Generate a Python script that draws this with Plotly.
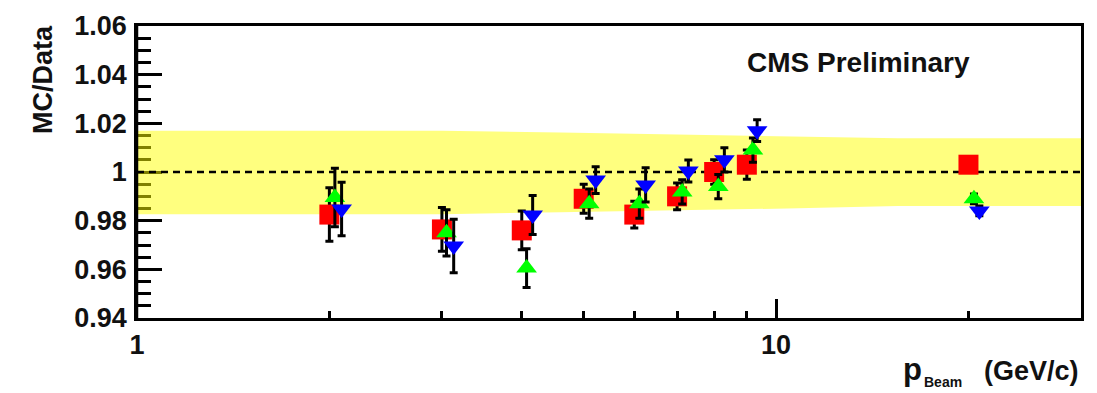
import math
import plotly.graph_objects as go

# Beam momentum (GeV/c) and MC/Data response ratio for three simulation sets
p_sq = [2, 3, 4, 5, 6, 7, 8, 9, 20]
r_sq = [0.9825, 0.9764, 0.9760, 0.9890, 0.9825, 0.9900, 1.0000, 1.0030, 1.0030]
e_sq = [0.0110, 0.0090, 0.0080, 0.0060, 0.0055, 0.0055, 0.0050, 0.0060, 0.0020]

p_up = [2.04, 3.05, 4.07, 5.10, 6.11, 7.13, 8.12, 9.20, 20.4]
r_up = [0.9895, 0.9750, 0.9605, 0.9870, 0.9870, 0.9918, 0.9940, 1.0090, 0.9890]
e_up = [0.0120, 0.0095, 0.0080, 0.0060, 0.0060, 0.0050, 0.0050, 0.0050, 0.0020]

p_dn = [2.09, 3.13, 4.16, 5.22, 6.25, 7.29, 8.30, 9.34, 20.8]
r_dn = [0.9848, 0.9696, 0.9823, 0.9967, 0.9947, 1.0004, 1.0050, 1.0170, 0.9840]
e_dn = [0.0110, 0.0110, 0.0080, 0.0055, 0.0070, 0.0045, 0.0050, 0.0045, 0.0020]

# Systematic uncertainty band
band_p = [1, 3, 4.6, 10.4, 15.5, 30]
band_hi = [1.0170, 1.0170, 1.0162, 1.0145, 1.0139, 1.0139]
band_lo = [0.9826, 0.9826, 0.9835, 0.9850, 0.9860, 0.9860]

x_range = [1, 30]
y_ticks = [0.94, 0.96, 0.98, 1.00, 1.02, 1.04, 1.06]
y_labels = ["0.94", "0.96", "0.98", "1", "1.02", "1.04", "1.06"]
x_ticks = [1, 10]
x_labels = ["1", "10"]
x_minor = [2, 3, 4, 5, 6, 7, 8, 9, 20, 30]

FONT = "Liberation Sans, Arial, sans-serif"
INK = "#111111"

fig = go.Figure()

fig.add_trace(go.Scatter(
    x=band_p + band_p[::-1], y=band_hi + band_lo[::-1],
    fill="toself", fillcolor="rgba(255,255,0,0.5)",
    line=dict(width=0), mode="lines", hoverinfo="skip", showlegend=False))

fig.add_trace(go.Scatter(
    x=x_range, y=[1, 1], mode="lines",
    line=dict(color="black", width=2.5, dash="7px,5px"),
    hoverinfo="skip", showlegend=False))

err_style = dict(type="data", color="black", thickness=3, width=4, visible=True)

fig.add_trace(go.Scatter(
    x=p_sq, y=r_sq, mode="markers",
    marker=dict(symbol="square", size=20, color="#ff0000", line=dict(width=0)),
    error_y=dict(array=e_sq, **err_style), showlegend=False))

fig.add_trace(go.Scatter(
    x=p_up, y=r_up, mode="markers",
    marker=dict(symbol="triangle-up", size=18, color="#00ff00", line=dict(width=0)),
    error_y=dict(array=e_up, **err_style), showlegend=False))

fig.add_trace(go.Scatter(
    x=p_dn, y=r_dn, mode="markers",
    marker=dict(symbol="triangle-down", size=18, color="#0000ff", line=dict(width=0)),
    error_y=dict(array=e_dn, **err_style), showlegend=False))

fig.update_layout(
    width=1097, height=393,
    margin=dict(l=137, r=16, t=26, b=75),
    paper_bgcolor="white", plot_bgcolor="white",
    font=dict(family=FONT, size=27, color=INK, weight="bold"),
    showlegend=False,
)

fig.update_xaxes(
    type="log", range=[math.log10(x_range[0]), math.log10(x_range[1])],
    tickmode="array", tickvals=x_ticks, ticktext=x_labels,
    ticks="inside", ticklen=19, tickwidth=2.5, tickcolor="black",
    showline=True, linewidth=2.5, linecolor="black", mirror=True,
    showgrid=False, zeroline=False, layer="below traces",
    tickfont=dict(size=27, weight="bold", color=INK), ticklabelstandoff=1,
    minor=dict(tickmode="array", tickvals=x_minor, ticks="inside",
               ticklen=7, tickwidth=2.5, tickcolor="black", showgrid=False),
)

fig.update_yaxes(
    range=[0.94, 1.06],
    tickmode="array", tickvals=y_ticks, ticktext=y_labels,
    ticks="inside", ticklen=25, tickwidth=2.5, tickcolor="black",
    showline=True, linewidth=2.5, linecolor="black", mirror=True,
    showgrid=False, zeroline=False, layer="below traces",
    tickfont=dict(size=27, weight="bold", color=INK), ticklabelstandoff=2,
    minor=dict(dtick=0.005, tick0=0.94, ticks="inside",
               ticklen=14, tickwidth=2.5, tickcolor="black", showgrid=False),
)

# left frame edge redrawn on top of the band
fig.add_shape(type="line", xref="paper", yref="paper", x0=0, x1=0, y0=0, y1=1,
              line=dict(color="black", width=2.5), layer="above")

fig.add_annotation(text="CMS Preliminary", xref="paper", yref="paper",
                   x=0.7638, y=0.8767, xanchor="center", yanchor="middle",
                   showarrow=False, font=dict(size=28, weight="bold", color=INK))
fig.add_annotation(text="MC/Data", xref="paper", yref="paper",
                   x=-0.0996, y=0.8185, xanchor="center", yanchor="middle",
                   textangle=-90, showarrow=False, font=dict(size=27, weight="bold", color=INK))

# x-axis title: p with a small "Beam" subscript, then the unit
fig.add_annotation(text="p", xref="paper", yref="paper",
                   x=0.8093, y=-0.1764, xanchor="left", yanchor="middle",
                   showarrow=False, font=dict(size=31, weight="bold", color=INK))
fig.add_annotation(text="Beam", xref="paper", yref="paper",
                   x=0.8315, y=-0.2535, xanchor="left", yanchor="bottom",
                   showarrow=False, font=dict(size=14, weight="bold", color=INK))
fig.add_annotation(text="(GeV/c)", xref="paper", yref="paper",
                   x=1.0, y=-0.1815, xanchor="right", yanchor="middle",
                   showarrow=False, font=dict(size=27, weight="bold", color=INK))

fig.write_html("out.html")
